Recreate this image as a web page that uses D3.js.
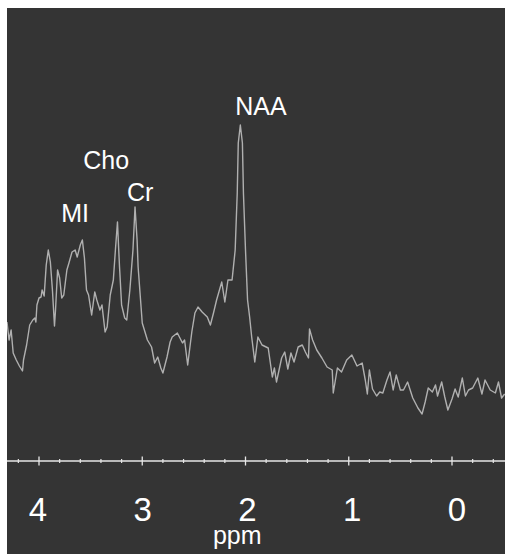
<!DOCTYPE html>
<html>
<head>
<meta charset="utf-8">
<script src="https://cdn.jsdelivr.net/npm/d3@7"></script>
<style>
  body { margin: 0; background: #fff; }
  text { font-family: "Liberation Sans", Arial, sans-serif; fill: #fff; }
</style>
</head>
<body>
<svg width="505" height="554"></svg>
<script>
// Spectrum: chemical shift (ppm) and signal (a.u.)
var ppm = [
    4.31, 4.29, 4.27, 4.25, 4.22, 4.19, 4.16, 4.15, 4.12, 4.09,
    4.06, 4.04, 4.03, 4.02, 4.00, 3.98, 3.97, 3.95, 3.93, 3.91,
    3.89, 3.87, 3.85, 3.84, 3.82, 3.80, 3.78, 3.76, 3.73, 3.71,
    3.68, 3.65, 3.63, 3.60, 3.58, 3.56, 3.54, 3.52, 3.49, 3.46,
    3.44, 3.41, 3.39, 3.36, 3.34, 3.31, 3.28, 3.26, 3.24, 3.23,
    3.22, 3.20, 3.17, 3.15, 3.12, 3.09, 3.07, 3.05, 3.04, 3.00,
    2.95, 2.91, 2.88, 2.85, 2.82, 2.80, 2.76, 2.73, 2.71, 2.66,
    2.61, 2.59, 2.56, 2.52, 2.49, 2.46, 2.42, 2.37, 2.34, 2.31,
    2.28, 2.23, 2.20, 2.17, 2.13, 2.10, 2.08, 2.07, 2.05, 2.03,
    2.02, 2.00, 1.98, 1.96, 1.94, 1.91, 1.88, 1.84, 1.78, 1.74,
    1.72, 1.70, 1.65, 1.62, 1.59, 1.56, 1.53, 1.49, 1.45, 1.42,
    1.39, 1.38, 1.35, 1.31, 1.26, 1.21, 1.16, 1.15, 1.11, 1.07,
    1.02, 0.97, 0.92, 0.87, 0.84, 0.82, 0.80, 0.77, 0.73, 0.70,
    0.67, 0.63, 0.60, 0.57, 0.54, 0.50, 0.47, 0.43, 0.38, 0.33,
    0.29, 0.26, 0.23, 0.19, 0.16, 0.14, 0.10, 0.07, 0.04, 0.00,
    -0.03, -0.06, -0.10, -0.13, -0.16, -0.20, -0.25, -0.29, -0.32, -0.37,
    -0.42, -0.45, -0.48, -0.51
];
var signal = [
    139, 121, 131, 108, 101, 95, 90, 101, 116, 136,
    141, 143, 139, 156, 163, 164, 171, 165, 196, 211,
    199, 171, 135, 151, 191, 183, 163, 166, 191, 198,
    209, 211, 204, 216, 221, 203, 171, 166, 146, 169,
    161, 151, 156, 129, 134, 166, 181, 211, 239, 216,
    194, 156, 143, 141, 171, 211, 254, 221, 194, 138,
    121, 114, 98, 104, 93, 88, 104, 119, 124, 128,
    118, 121, 96, 129, 148, 154, 149, 144, 136, 148,
    161, 179, 159, 181, 181, 211, 268, 318, 336, 318,
    268, 211, 161, 144, 124, 99, 124, 116, 113, 84,
    93, 79, 103, 109, 92, 108, 99, 114, 116, 109,
    103, 132, 121, 111, 103, 94, 91, 68, 93, 89,
    101, 106, 95, 98, 81, 67, 91, 72, 65, 69,
    68, 81, 89, 71, 86, 71, 71, 79, 63, 53,
    47, 59, 73, 69, 76, 65, 79, 64, 51, 62,
    72, 64, 83, 65, 71, 73, 83, 67, 81, 71,
    68, 79, 63, 67
];

// Peak labels
var peakNames = ['MI', 'Cho', 'Cr', 'NAA'];
var peakPpm = [3.65, 3.35, 3.02, 1.85];
var peakSignal = [239, 292, 260, 346];

// Axis ticks
var majorTicks = [4, 3, 2, 1, 0];
var minorTicks = [4.2, 3.8, 3.6, 3.4, 3.2, 2.8, 2.6, 2.4, 2.2, 1.8, 1.6, 1.4, 1.2,
                  0.8, 0.6, 0.4, 0.2, -0.2, -0.4];

var svg = d3.select('svg');
var panel = {l: 7, t: 8, r: 505, b: 554};

svg.append('rect')
    .attr('x', panel.l).attr('y', panel.t)
    .attr('width', panel.r - panel.l).attr('height', panel.b - panel.t)
    .attr('fill', '#343434');

svg.append('clipPath').attr('id', 'clip')
    .append('rect')
    .attr('x', panel.l).attr('y', panel.t)
    .attr('width', panel.r - panel.l).attr('height', panel.b - panel.t);

// ppm runs right to left
var x = d3.scaleLinear().domain([4, 0]).range([39, 452]);
var y = d3.scaleLinear().domain([0, 340]).range([461, 121]);

var points = ppm.map((p, i) => [p, signal[i]]);

svg.append('path')
    .datum(points)
    .attr('clip-path', 'url(#clip)')
    .attr('fill', 'none')
    .attr('stroke', '#b0b0b0')
    .attr('stroke-width', 1.4)
    .attr('stroke-linejoin', 'round')
    .attr('d', d3.line().x(d => x(d[0])).y(d => y(d[1])));

// axis line with ticks on both sides
var axisY = y(0);
var axisG = svg.append('g').attr('stroke', '#e6e6e6');
axisG.append('line')
    .attr('x1', panel.l).attr('x2', panel.r)
    .attr('y1', axisY).attr('y2', axisY)
    .attr('stroke-width', 1.5);
axisG.selectAll('.major').data(majorTicks).enter().append('line')
    .attr('class', 'major')
    .attr('x1', d => x(d)).attr('x2', d => x(d))
    .attr('y1', axisY - 4.5).attr('y2', axisY + 4.5)
    .attr('stroke-width', 1.3);
axisG.selectAll('.minor').data(minorTicks).enter().append('line')
    .attr('class', 'minor')
    .attr('x1', d => x(d)).attr('x2', d => x(d))
    .attr('y1', axisY - 2).attr('y2', axisY + 2)
    .attr('stroke-width', 1.2);

// labels sit a little right of their ticks, more so toward 0
svg.selectAll('.tick-label').data(majorTicks).enter().append('text')
    .attr('class', 'tick-label')
    .attr('x', d => x(d) - 1 + (4 - d) * 1.5)
    .attr('y', 521)
    .attr('text-anchor', 'middle')
    .attr('font-size', 33)
    .text(d => d);

svg.append('text')
    .attr('x', x(2.08))
    .attr('y', 544)
    .attr('text-anchor', 'middle')
    .attr('font-size', 25)
    .text('ppm');

svg.selectAll('.peak').data(peakNames).enter().append('text')
    .attr('class', 'peak')
    .attr('x', (d, i) => x(peakPpm[i]))
    .attr('y', (d, i) => y(peakSignal[i]))
    .attr('text-anchor', 'middle')
    .attr('font-size', 25)
    .text(d => d);
</script>
</body>
</html>
